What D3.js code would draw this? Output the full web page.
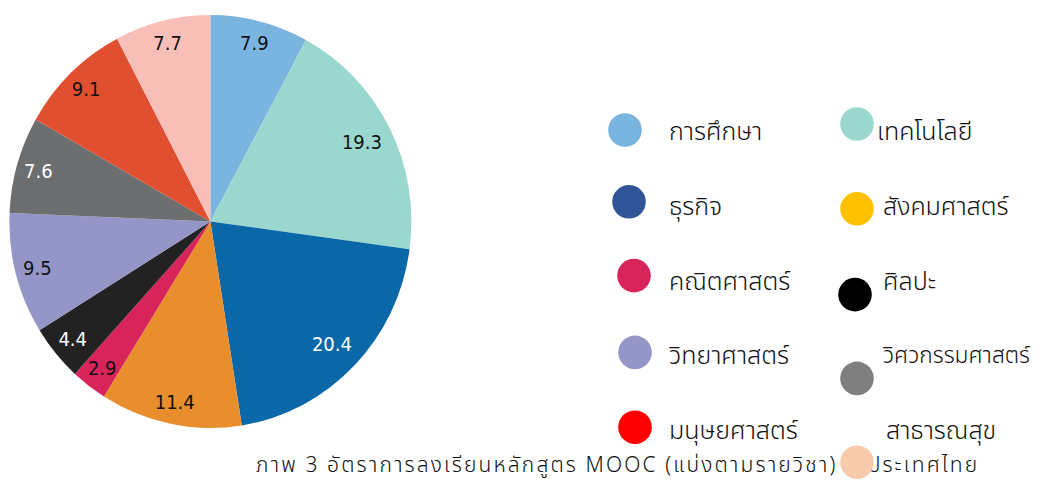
<!DOCTYPE html>
<html>
<head>
<meta charset="utf-8">
<script src="https://cdn.jsdelivr.net/npm/d3@7"></script>
<style>
  html, body { margin: 0; padding: 0; background: #ffffff; }
  svg { display: block; }
  .thai { font-family: "Leelawadee UI", "Noto Sans Thai", "Noto Sans Thai UI", Tahoma, "Noto Sans", sans-serif; font-weight: 300; }
</style>
</head>
<body>
<svg id="chart" width="1040" height="481"></svg>
<script>
// ---- data ----
const sliceValues = [7.9, 19.3, 20.4, 11.4, 2.9, 4.4, 9.5, 7.6, 9.1, 7.7];
const sliceColors = ["#7ab5e0", "#9ad7cf", "#0b68a8", "#e98e2d", "#d7245b", "#232223", "#9496c7", "#6c6e6f", "#e05030", "#f8bfb8"];
const labelColors = ["#111", "#111", "#fff", "#111", "#111", "#fff", "#111", "#fff", "#111", "#111"];
const legendNames = ["การศึกษา", "เทคโนโลยี", "ธุรกิจ", "สังคมศาสตร์", "คณิตศาสตร์", "ศิลปะ", "วิทยาศาสตร์", "วิศวกรรมศาสตร์", "มนุษยศาสตร์", "สาธารณสุข"];
const legendColors = ["#7ab5e0", "#9ad7cf", "#2f5597", "#ffc000", "#d7245b", "#000000", "#9496c7", "#7f7f7f", "#ff0000", "#f8cbad"];
const titleText = "ภาพ 3 อัตราการลงเรียนหลักสูตร MOOC (แบ่งตามรายวิชา) ในประเทศไทย";

// ---- layout ----
const svg = d3.select("#chart");
const cx = 210.4, cy = 221.5, R = 201, yStretch = 1.027;

const pie = d3.pie().sort(null).value(d => d);
const arcs = pie(sliceValues);
const arc = d3.arc().innerRadius(0).outerRadius(R);
const labelR = d => (d.data >= 15 ? 170 : 179);
const labelPos = d => {
  const a = (d.startAngle + d.endAngle) / 2;
  const r = labelR(d);
  return [Math.sin(a) * r, -Math.cos(a) * r * yStretch];
};

const g = svg.append("g").attr("transform", `translate(${cx},${cy}) scale(1,${yStretch})`);
g.selectAll("path").data(arcs).enter().append("path")
  .attr("d", arc)
  .attr("fill", (d, i) => sliceColors[i]);

const lg = svg.append("g").attr("transform", `translate(${cx},${cy})`);
lg.selectAll("text").data(arcs).enter().append("text")
  .attr("x", d => labelPos(d)[0])
  .attr("y", d => labelPos(d)[1])
  .attr("text-anchor", "middle")
  .attr("dominant-baseline", "central")
  .attr("font-family", "'DejaVu Sans Condensed', Tahoma, 'DejaVu Sans', sans-serif")
  .attr("font-size", 20)
  .attr("fill", (d, i) => labelColors[i])
  .text(d => d.data.toFixed(1));

// title (drawn before legend so the last legend dot overlaps it)
const titleX = 256, titleW = 736;
const title = svg.append("text")
  .attr("class", "thai")
  .attr("x", titleX).attr("y", 465)
  .attr("dominant-baseline", "central")
  .attr("font-size", 21)
  .attr("fill", "#111")
  .text(titleText);
{
  const w = title.node().getComputedTextLength();
  const n = titleText.length;
  if (w < titleW) title.attr("letter-spacing", (titleW - w) / n);
  else title.attr("font-size", 21 * titleW / w);
}

// legend: 2 columns x 5 rows
const colText = [669, 880];
const rowY = d3.range(5).map(r => 132 + r * 74.8);
const colDot = [630, 857];
const dotDx = [-5, 0, -1, 0, 4, -2, 5, 0, 5, 0];
const dotDy = [-2, -8, -5, 2, -6, 13, -4, 22, -4, 31];
const textDx = [0, -3, 0, 3, 0, 3, 0, 3, 0, 6];
const rightLimit = 1030;

const leg = svg.append("g");
legendNames.forEach((name, i) => {
  const col = i % 2, row = Math.floor(i / 2);
  const x = colText[col] + textDx[i];
  const t = leg.append("text")
    .attr("class", "thai")
    .attr("x", x)
    .attr("y", rowY[row])
    .attr("dominant-baseline", "central")
    .attr("font-size", 25)
    .attr("fill", "#111")
    .text(name);
  const w = t.node().getComputedTextLength();
  if (x + w > rightLimit) {
    t.attr("font-size", 25 * (rightLimit - x) / w);
  }
});
legendNames.forEach((name, i) => {
  const col = i % 2, row = Math.floor(i / 2);
  leg.append("circle")
    .attr("cx", colDot[col] + dotDx[i])
    .attr("cy", rowY[row] + dotDy[i])
    .attr("r", 16.8)
    .attr("fill", legendColors[i]);
});
</script>
</body>
</html>
